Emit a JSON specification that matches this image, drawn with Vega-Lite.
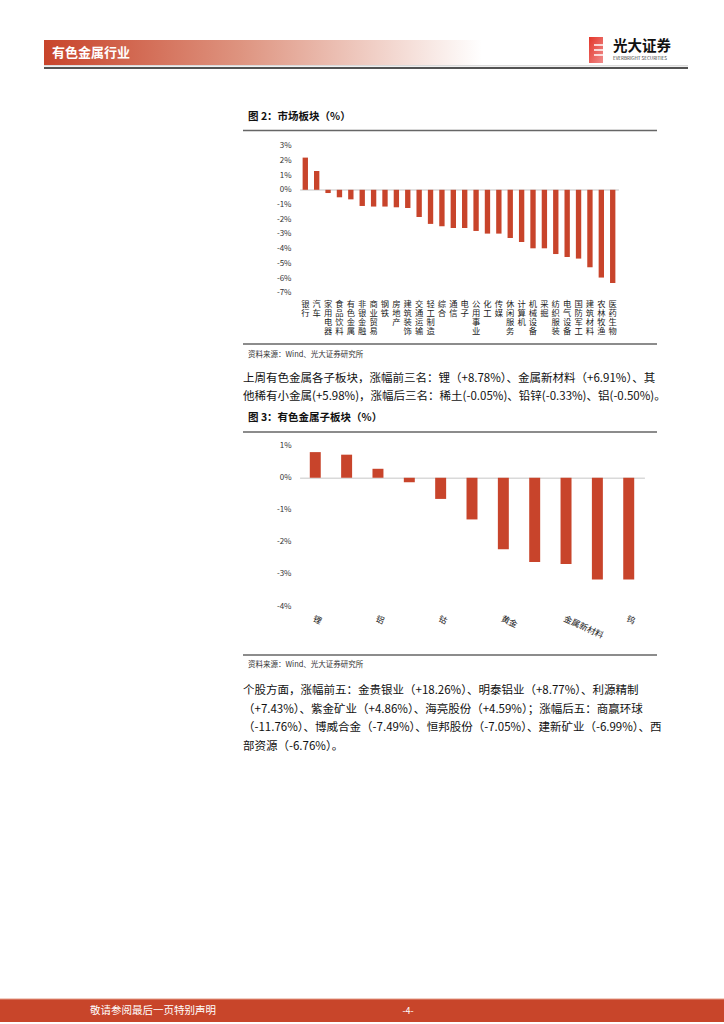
{
  "$schema": "https://vega.github.io/schema/vega-lite/v6.json",
  "width": 724,
  "height": 1024,
  "autosize": {"type": "none"},
  "padding": 0,
  "background": "white",
  "config": {"view": {"stroke": null}, "font": "Noto Sans CJK SC"},
  "resolve": {"scale": {"x": "independent", "y": "independent"}},
  "layer": [
    {
      "data": {"values": [{"t": "header"}]},
      "mark": {"type": "rect", "color": {"gradient": "linear", "x1": 0, "x2": 1, "y1": 0, "y2": 0, "stops": [{"offset": 0, "color": "#C8442B"}, {"offset": 0.45, "color": "#DE9480"}, {"offset": 1, "color": "#FFFFFF"}]}},
      "encoding": {"x": {"value": 44}, "x2": {"value": 482}, "y": {"value": 40}, "y2": {"value": 65}}
    },
    {
      "data": {"values": [{"t": "有色金属行业"}]},
      "mark": {"type": "text", "align": "left", "baseline": "middle", "fontSize": 13, "fontWeight": "bold", "color": "#FFFFFF"},
      "encoding": {"text": {"field": "t", "type": "nominal"}, "x": {"value": 52}, "y": {"value": 52.5}}
    },
    {
      "data": {"values": [{"t": "line"}]},
      "mark": {"type": "rule", "color": "#cccccc", "strokeWidth": 1},
      "encoding": {"x": {"value": 44}, "x2": {"value": 688}, "y": {"value": 65.8}}
    },
    {
      "data": {"values": [{"t": "line"}]},
      "mark": {"type": "rule", "color": "#1a1a1a", "strokeWidth": 1.6},
      "encoding": {"x": {"value": 44}, "x2": {"value": 688}, "y": {"value": 68}}
    },
    {
      "data": {"values": [{"t": "logo"}]},
      "mark": {"type": "rect", "color": {"gradient": "linear", "x1": 0, "x2": 1, "y1": 0, "y2": 1, "stops": [{"offset": 0, "color": "#E3362A"}, {"offset": 1, "color": "#F08C8C"}]}},
      "encoding": {"x": {"value": 589}, "x2": {"value": 603}, "y": {"value": 37}, "y2": {"value": 63}}
    },
    {
      "data": {"values": [{"t": "logo"}]},
      "mark": {"type": "rule", "color": "#FFFFFF", "strokeWidth": 1.5},
      "encoding": {"x": {"value": 594}, "x2": {"value": 604}, "y": {"value": 45}}
    },
    {
      "data": {"values": [{"t": "logo"}]},
      "mark": {"type": "rule", "color": "#FFFFFF", "strokeWidth": 1.5},
      "encoding": {"x": {"value": 594}, "x2": {"value": 604}, "y": {"value": 50}}
    },
    {
      "data": {"values": [{"t": "logo"}]},
      "mark": {"type": "rule", "color": "#FFFFFF", "strokeWidth": 1.5},
      "encoding": {"x": {"value": 594}, "x2": {"value": 604}, "y": {"value": 55}}
    },
    {
      "data": {"values": [{"t": "光大证券"}]},
      "mark": {"type": "text", "align": "left", "baseline": "middle", "fontSize": 14.5, "fontWeight": "bold", "color": "#111111"},
      "encoding": {"text": {"field": "t", "type": "nominal"}, "x": {"value": 613}, "y": {"value": 47}}
    },
    {
      "data": {"values": [{"t": "EVERBRIGHT SECURITIES"}]},
      "mark": {"type": "text", "align": "left", "baseline": "middle", "fontSize": 4.6, "color": "#333333"},
      "encoding": {"text": {"field": "t", "type": "nominal"}, "x": {"value": 613}, "y": {"value": 58.5}}
    },
    {
      "data": {"values": [{"t": "图 2：市场板块（%）"}]},
      "mark": {"type": "text", "align": "left", "baseline": "middle", "fontSize": 10.5, "fontWeight": "bold", "color": "#111111"},
      "encoding": {"text": {"field": "t", "type": "nominal"}, "x": {"value": 248}, "y": {"value": 117}}
    },
    {
      "data": {"values": [{"t": "line"}]},
      "mark": {"type": "rule", "color": "#666666", "strokeWidth": 1.6},
      "encoding": {"x": {"value": 243}, "x2": {"value": 657}, "y": {"value": 130.5}}
    },
    {
      "data": {"values": [{"t": "line"}]},
      "mark": {"type": "rule", "color": "#666666", "strokeWidth": 1.6},
      "encoding": {"x": {"value": 243}, "x2": {"value": 657}, "y": {"value": 344}}
    },
    {
      "data": {"values": [{"t": "资料来源：Wind、光大证券研究所"}]},
      "mark": {"type": "text", "align": "left", "baseline": "middle", "fontSize": 7.5, "color": "#333333"},
      "encoding": {"text": {"field": "t", "type": "nominal"}, "x": {"value": 248}, "y": {"value": 355}}
    },
    {
      "data": {"values": [
        {"sector": "银行", "pct": 2.19},
        {"sector": "汽车", "pct": 1.28},
        {"sector": "家用电器", "pct": -0.22},
        {"sector": "食品饮料", "pct": -0.51},
        {"sector": "有色金属", "pct": -0.65},
        {"sector": "非银金融", "pct": -1.10},
        {"sector": "商业贸易", "pct": -1.14},
        {"sector": "钢铁", "pct": -1.14},
        {"sector": "房地产", "pct": -1.19},
        {"sector": "建筑装饰", "pct": -1.24},
        {"sector": "交通运输", "pct": -1.85},
        {"sector": "轻工制造", "pct": -2.32},
        {"sector": "综合", "pct": -2.48},
        {"sector": "通信", "pct": -2.60},
        {"sector": "电子", "pct": -2.60},
        {"sector": "公用事业", "pct": -2.80},
        {"sector": "化工", "pct": -2.98},
        {"sector": "传媒", "pct": -2.98},
        {"sector": "休闲服务", "pct": -3.28},
        {"sector": "计算机", "pct": -3.55},
        {"sector": "机械设备", "pct": -3.98},
        {"sector": "采掘", "pct": -3.98},
        {"sector": "纺织服装", "pct": -4.37},
        {"sector": "电气设备", "pct": -4.57},
        {"sector": "国防军工", "pct": -4.68},
        {"sector": "建筑材料", "pct": -5.27},
        {"sector": "农林牧渔", "pct": -5.97},
        {"sector": "医药生物", "pct": -6.34}
      ]},
      "mark": {"type": "bar", "color": "#C8442B"},
      "encoding": {
        "x": {
          "field": "sector", "type": "nominal", "sort": null,
          "scale": {"range": [299.6, 618.4], "paddingInner": 0.53, "paddingOuter": 0.265},
          "axis": {"orient": "bottom", "offset": -834.5, "title": null, "domainColor": "#d9d9d9", "domainWidth": 1.5, "ticks": false, "tickSize": 0, "labelAngle": 0, "labelPadding": 109.5, "labelFontSize": 8.3, "labelLineHeight": 9, "labelBaseline": "top", "labelAlign": "center", "labelColor": "#222222", "labelOverlap": false, "labelBound": false, "labelFlush": false, "labelExpr": "split(datum.label, '')"}
        },
        "y": {
          "field": "pct", "type": "quantitative",
          "scale": {"domain": [-7, 3], "range": [292.7, 145.7], "nice": false},
          "axis": {"orient": "left", "offset": -297, "title": null, "domain": false, "ticks": false, "tickSize": 0, "grid": false, "values": [-7, -6, -5, -4, -3, -2, -1, 0, 1, 2, 3], "labelExpr": "datum.value + '%'", "labelPadding": 6, "labelFontSize": 8, "labelColor": "#333333"}
        }
      }
    },
    {
      "data": {"values": [{"t": ["上周有色金属各子板块，涨幅前三名：锂（+8.78%）、金属新材料（+6.91%）、其", "他稀有小金属(+5.98%)，涨幅后三名：稀土(-0.05%)、铅锌(-0.33%)、铝(-0.50%)。"]}]},
      "mark": {"type": "text", "align": "left", "baseline": "middle", "fontSize": 11.5, "lineHeight": 18, "color": "#111111"},
      "encoding": {"text": {"field": "t", "type": "nominal"}, "x": {"value": 243}, "y": {"value": 378.5}}
    },
    {
      "data": {"values": [{"t": "图 3：有色金属子板块（%）"}]},
      "mark": {"type": "text", "align": "left", "baseline": "middle", "fontSize": 10.5, "fontWeight": "bold", "color": "#111111"},
      "encoding": {"text": {"field": "t", "type": "nominal"}, "x": {"value": 248}, "y": {"value": 418}}
    },
    {
      "data": {"values": [{"t": "line"}]},
      "mark": {"type": "rule", "color": "#666666", "strokeWidth": 1.6},
      "encoding": {"x": {"value": 243}, "x2": {"value": 657}, "y": {"value": 432}}
    },
    {
      "data": {"values": [{"t": "line"}]},
      "mark": {"type": "rule", "color": "#666666", "strokeWidth": 1.6},
      "encoding": {"x": {"value": 243}, "x2": {"value": 657}, "y": {"value": 655}}
    },
    {
      "data": {"values": [{"t": "资料来源：Wind、光大证券研究所"}]},
      "mark": {"type": "text", "align": "left", "baseline": "middle", "fontSize": 7.5, "color": "#333333"},
      "encoding": {"text": {"field": "t", "type": "nominal"}, "x": {"value": 248}, "y": {"value": 665}}
    },
    {
      "data": {"values": [
        {"metal": "锂", "chg": 0.80},
        {"metal": "铜", "chg": 0.72},
        {"metal": "铝", "chg": 0.28},
        {"metal": "稀土", "chg": -0.14},
        {"metal": "钴", "chg": -0.66},
        {"metal": "铅锌", "chg": -1.30},
        {"metal": "黄金", "chg": -2.23},
        {"metal": "锡", "chg": -2.63},
        {"metal": "金属新材料", "chg": -2.69},
        {"metal": "镍", "chg": -3.17},
        {"metal": "钨", "chg": -3.17}
      ]},
      "mark": {"type": "bar", "color": "#C8442B"},
      "encoding": {
        "x": {
          "field": "metal", "type": "nominal", "sort": null,
          "scale": {"range": [299.6, 644.4], "paddingInner": 0.65, "paddingOuter": 0.325},
          "axis": {"orient": "bottom", "offset": -546.2, "title": null, "domainColor": "#d9d9d9", "domainWidth": 1.5, "ticks": false, "tickSize": 0, "values": ["锂", "铝", "钴", "黄金", "金属新材料", "钨"], "labelAngle": 25, "labelPadding": 136, "labelFontSize": 8.5, "labelBaseline": "top", "labelAlign": "left", "labelColor": "#222222", "labelOverlap": false, "labelBound": false, "labelFlush": false}
        },
        "y": {
          "field": "chg", "type": "quantitative",
          "scale": {"domain": [-4, 1], "range": [606, 445.7], "nice": false},
          "axis": {"orient": "left", "offset": -297, "title": null, "domain": false, "ticks": false, "tickSize": 0, "grid": false, "values": [-4, -3, -2, -1, 0, 1], "labelExpr": "datum.value + '%'", "labelPadding": 6, "labelFontSize": 8, "labelColor": "#333333"}
        }
      }
    },
    {
      "data": {"values": [{"t": ["个股方面，涨幅前五：金贵银业（+18.26%）、明泰铝业（+8.77%）、利源精制", "（+7.43%）、紫金矿业（+4.86%）、海亮股份（+4.59%）；涨幅后五：商赢环球", "（-11.76%）、博威合金（-7.49%）、恒邦股份（-7.05%）、建新矿业（-6.99%）、西", "部资源（-6.76%）。"]}]},
      "mark": {"type": "text", "align": "left", "baseline": "middle", "fontSize": 11.5, "lineHeight": 18.5, "color": "#111111"},
      "encoding": {"text": {"field": "t", "type": "nominal"}, "x": {"value": 243}, "y": {"value": 691}}
    },
    {
      "data": {"values": [{"t": "footer"}]},
      "mark": {"type": "rect", "color": "#C8452A"},
      "encoding": {"x": {"value": 0}, "x2": {"value": 724}, "y": {"value": 999}, "y2": {"value": 1022}}
    },
    {
      "data": {"values": [{"t": "line"}]},
      "mark": {"type": "rule", "color": "#E39A85", "strokeWidth": 1},
      "encoding": {"x": {"value": 0}, "x2": {"value": 724}, "y": {"value": 999}}
    },
    {
      "data": {"values": [{"t": "敬请参阅最后一页特别声明"}]},
      "mark": {"type": "text", "align": "left", "baseline": "middle", "fontSize": 10.5, "color": "#FFFFFF"},
      "encoding": {"text": {"field": "t", "type": "nominal"}, "x": {"value": 90}, "y": {"value": 1011}}
    },
    {
      "data": {"values": [{"t": "-4-"}]},
      "mark": {"type": "text", "align": "center", "baseline": "middle", "fontSize": 9, "color": "#FFFFFF"},
      "encoding": {"text": {"field": "t", "type": "nominal"}, "x": {"value": 408}, "y": {"value": 1011}}
    }
  ]
}
